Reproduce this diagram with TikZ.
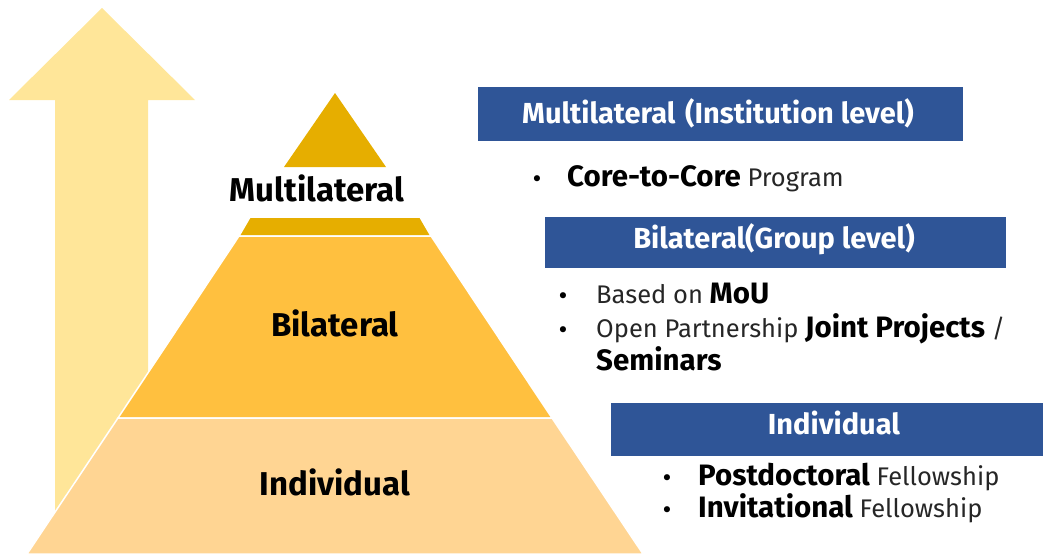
\documentclass[tikz,border=0pt]{standalone}
\usepackage{fontspec}
\setmainfont{Fira Sans}
\newfontfamily\bulfont{DejaVu Sans}
\definecolor{arrowc}{HTML}{FFE699}
\definecolor{topc}{HTML}{E6AE00}
\definecolor{bic}{HTML}{FFC03F}
\definecolor{indc}{HTML}{FFD593}
\definecolor{boxc}{HTML}{2F5597}
\definecolor{lightt}{HTML}{262626}
\tikzset{
  layer/.style={draw=white, line width=1.5pt},
  lvl/.style={font=\fontsize{33}{35}\selectfont\bfseries, text=black, inner sep=0pt, anchor=base},
  headbox/.style={fill=boxc, draw=none},
  headtxt/.style={font=\fontsize{29}{31}\selectfont\bfseries, text=white, inner sep=0pt, anchor=base},
  item/.style={font=\fontsize{25.5}{28}\selectfont, text=black, inner sep=0pt, anchor=base west},
  bul/.style={font=\bulfont\fontsize{21}{24}\selectfont, text=black, inner sep=0pt, anchor=base},
}
\newcommand{\lt}[1]{{\color{lightt}#1}}
\newcommand{\bw}[1]{{\fontsize{29.5}{31}\selectfont\bfseries #1}}
\begin{document}
\begin{tikzpicture}[x=1pt,y=-1pt]
\useasboundingbox (0,0) rectangle (1043,554);
% arrow
\fill[arrowc] (102,8) -- (195,100) -- (148,100) -- (148,552) -- (55,552) -- (55,100) -- (9,100) -- cycle;
% pyramid
\fill[topc] (335,93) -- (386,167) -- (284,167) -- cycle;
\filldraw[layer, fill=topc] (250,217) -- (420,217) -- (431,236) -- (239,236) -- cycle;
\filldraw[layer, fill=bic] (239,236) -- (431,236) -- (552,418) -- (118,418) -- cycle;
\filldraw[layer, fill=indc] (118,418) -- (552,418) -- (643,554) -- (27,554) -- cycle;
\node[lvl] (mult) at (317,201) {Multilateral};
\node[lvl] (bil) at (335,336) {Bilateral};
\node[lvl] (ind) at (335,495) {Individual};
% boxes
\fill[headbox] (478,87) rectangle (963,141);
\node[headtxt] (h1) at (718,123) {Multilateral\,\,(Institution level)};
\fill[headbox] (545,217) rectangle (1006,268);
\node[headtxt] (h2) at (774,248) {Bilateral(Group level)};
\fill[headbox] (611,403) rectangle (1043,456);
\node[headtxt] (h3) at (834,434) {Individual};
% items
\node[bul] (b1) at (537,186) {•};
\node[item] (t1) at (567,186) {\bw{Core-to-Core} \lt{Program}};
\node[bul] (b2) at (563,303) {•};
\node[item] (t2) at (596,303) {\lt{Based on} \bw{MoU}};
\node[bul] (b3) at (563,337) {•};
\node[item] (t3) at (596,337) {\lt{Open Partnership} \bw{Joint Projects} \lt{/}};
\node[item] (t4) at (596,370) {\bw{Seminars}};
\node[bul] (b4) at (667,485) {•};
\node[item] (t5) at (698,485) {\bw{Postdoctoral} \lt{Fellowship}};
\node[bul] (b5) at (667,517) {•};
\node[item] (t6) at (698,517) {\bw{Invitational} \lt{Fellowship}};
\end{tikzpicture}
\end{document}
